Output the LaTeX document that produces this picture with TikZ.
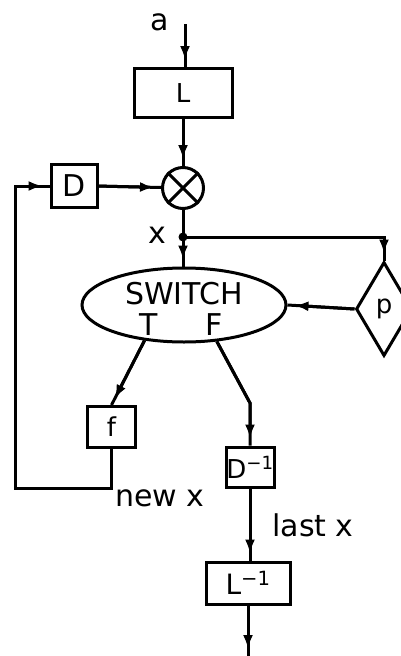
\documentclass[tikz,border=0pt]{standalone}
\usepackage{fontspec}
\setmainfont{DejaVu Sans}
\usetikzlibrary{arrows.meta,shapes.geometric}
\newcommand{\boxfont}{\fontsize{26}{28}\selectfont}
\newcommand{\lblfont}{\fontsize{30}{32}\selectfont}
\begin{document}
\begin{tikzpicture}[x=1pt,y=-1pt,line width=3pt,
  blk/.style={draw,rectangle,inner sep=0pt,font=\boxfont},
  lbl/.style={inner sep=0pt,font=\lblfont},
  arr/.style={postaction={draw,-{Latex[length=14pt,width=10pt]},shorten >=7pt}}]
\useasboundingbox (0,0) rectangle (400,656);
% nodes
\node[blk,minimum width=98pt,minimum height=49pt] (L) at (183,93) {L};
\node[draw,circle,minimum size=41pt,inner sep=0pt] (C) at (183,188) {};
\node[blk,minimum width=46pt,minimum height=43pt,font=\lblfont] (D) at (74,185.5) {D};
\coordinate (J) at (183,237);
\node[draw,ellipse,minimum width=204pt,minimum height=74pt,inner sep=0pt] (S) at (184,305) {};
\node[lbl] (sw) at (184,294) {SWITCH};
\node[lbl] (T) at (149,325) {T};
\node[lbl] (F) at (214,325) {F};
\node[draw,diamond,minimum width=56pt,minimum height=94pt,inner sep=0pt,font=\boxfont] (P) at (384,309) {p};
\node[blk,minimum width=48pt,minimum height=41pt] (f) at (111.5,427) {f};
\node[blk,minimum width=48pt,minimum height=40pt] (Di) at (250,467) {D\textsuperscript{−1}};
\node[blk,minimum width=84pt,minimum height=42pt,font=\fontsize{28}{30}\selectfont] (Li) at (248,583) {L\textsuperscript{−1}};
% labels
\node[lbl] (a) at (160,22) {a};
\node[lbl] (xl) at (157,235) {x};
\node[lbl] (nx) at (160,498) {new x};
\node[lbl] (lx) at (313,525) {last x};
% cross in multiplier
\draw (C.north west) -- (C.south east) (C.north east) -- (C.south west);
% connectors
\coordinate (in) at (185,24);
\draw[arr] (in) -- (in |- L.north);
\draw[arr] (L) -- (C);
\draw[arr] (D) -- (C);
\draw (C) -- (J);
\fill (J) circle (4.5pt);
\draw[arr] (J) -- (J |- S.north);
\coordinate (jr) at (P.north |- J);
\draw[arr] (J) -- (jr) -- (P.north);
\draw[arr] (P.west) -- (S.east);
\draw[arr] (S.222) -- (f.north);
\coordinate (fb2) at (250,403);
\draw[arr] (S.312) -- (fb2) -- (Di.north);
\draw[arr] (Di) -- (Di |- Li.north);
\coordinate (out) at (248,656);
\draw[arr] (Li) -- (out);
\coordinate (fb) at (f.south |- 0,488);
\coordinate (lb) at (15,488);
\coordinate (lt) at (15,186);
\draw[arr] (f.south) -- (fb) -- (lb) -- (lt) -- (D.west |- lt);
\end{tikzpicture}
\end{document}
